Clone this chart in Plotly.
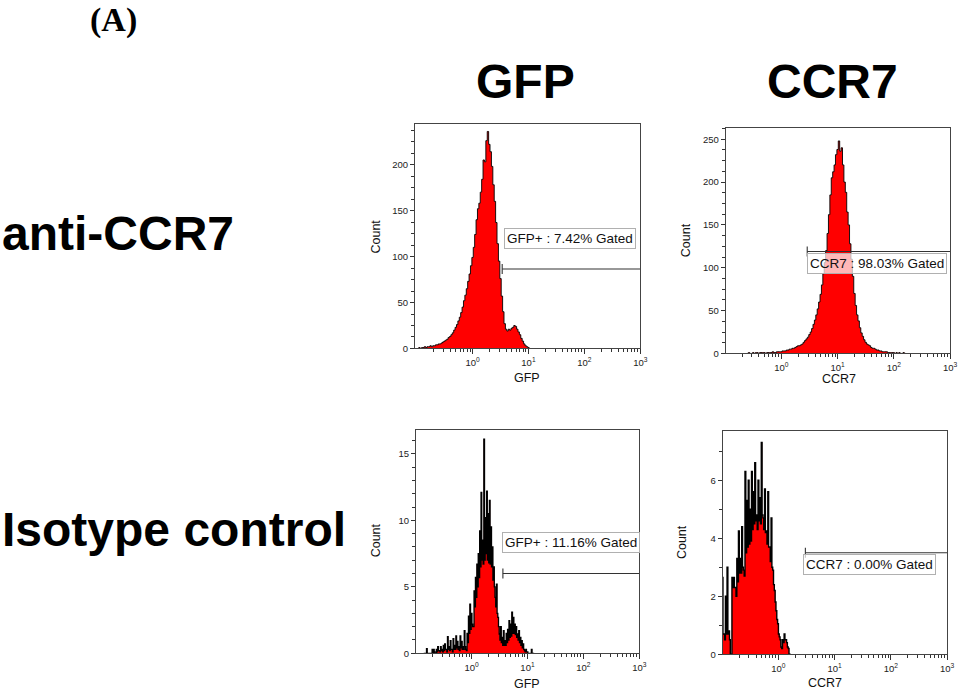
import plotly.graph_objects as go

FONT = "Liberation Sans, Arial, Helvetica, sans-serif"

# ---------------- data (histogram counts per log10 channel bin) ----------------
# top-left: anti-CCR7 / GFP
p1_start, p1_width = -0.9875, 0.025
p1_counts = [0, 1, 0, 1, 1, 2, 1, 2, 2, 3, 2, 3, 3, 4, 4, 5, 5, 6, 7, 8, 9, 10, 12, 13, 15, 17,
             20, 23, 26, 30, 34, 39, 45, 52, 58, 65, 73, 81, 90, 99, 110, 124, 140, 152, 158,
             170, 184, 205, 203, 226, 236, 222, 214, 198, 178, 160, 137, 114, 95, 76, 57, 40,
             27, 21, 19, 21, 20, 22, 23, 25, 24, 21, 18, 15, 11, 8, 5, 3, 2, 1, 0]

# top-right: anti-CCR7 / CCR7
p2_start, p2_width = -0.6125, 0.025
p2_counts = [0, 1, 0, 0, 1, 0, 1, 1, 0, 1, 1, 1, 1, 0, 1, 1, 1, 1, 2, 1, 1, 2, 2, 2,
             2, 3, 3, 3, 4, 4, 5, 5, 6, 6, 7, 8, 9, 9, 10, 11, 13, 15, 17, 19,
             22, 25, 29, 34, 39, 45, 52, 60, 69, 80, 93, 106, 120, 140, 162, 185, 205, 212, 220, 232,
             238, 248, 236, 240, 220, 200, 188, 165, 150, 128, 110, 90, 70, 56, 45, 38, 30, 24, 20, 16,
             13, 11, 10, 9, 7, 6, 6, 5, 4, 4, 3, 3, 2, 2, 2, 2, 1, 1, 1, 1,
             1, 0, 1, 0, 1, 0, 0, 1, 0]

# bottom-left: Isotype control / GFP (fine channels, noisy low counts)
p3_start, p3_width = -0.85625, 0.0125
p3_counts = [0, 0, 0, 0, 0.35, 0, 0, 0, 0, 0, 0, 0, 0.3, 0, 0.3, 0.1, 0, 0, 0.3, 0.1,
             0.5, 0.2, 0.2, 0.1, 0.5, 0.2, 0.3, 0.1, 0.6, 0.2, 0.7, 0.3, 0.3, 0.1, 1.25, 0.3,
             0.5, 0.2, 0.95, 0.3, 0.3, 0.1, 1.1, 0.3, 0.6, 0.3, 1.3, 0.4, 0.9, 0.3, 0.5, 0.2,
             1.3, 0.4, 0.9, 0.3, 0.5, 0.3, 1.7, 0.5, 0.3, 0.2, 1.5, 0.8, 2.8, 1.5, 3.7, 1.8,
             3.0, 2.2, 2.0, 2.0, 4.7, 3.5, 5.7, 4.2, 6.7, 5.0, 7.5, 5.7, 9.2, 6.5, 12.1, 7.0,
             8.5, 6.7, 16.1, 7.0, 10.2, 7.5, 12.2, 7.0, 10.5, 6.8, 11.5, 6.7, 9.5, 6.5, 8.0, 5.5,
             6.5, 5.0, 4.2, 3.5, 5.2, 3.0, 2.7, 2.0, 1.45, 1.0, 2.0, 0.8, 1.2, 0.6, 1.7, 0.6,
             0.95, 0.6, 1.5, 0.8, 1.8, 1.0, 2.45, 1.2, 2.2, 1.3, 3.1, 1.5, 2.7, 1.5, 2.2, 1.4,
             2.0, 1.2, 1.45, 1.0, 1.7, 0.8, 1.2, 0.6, 0.95, 0.4, 0.7, 0.3, 0.2, 0.1, 0.3, 0.1,
             0.1, 0, 0, 0, 0, 0, 0.3, 0, 0, 0]

# bottom-right: Isotype control / CCR7 (fine channels, noisy low counts)
p4_start, p4_width = -1.0, 0.0145
p4_counts = [2.65, 0.7, 0.7, 0.5, 2.0, 0.7, 3.0, 0.7, 0.8, 0.5, 0, 0,
             2.65, 2.3, 2.65, 2.3, 2.3, 2.0, 3.3, 2.5, 4.25, 2.8, 3.3, 2.8,
             4.4, 3.0, 2.9, 2.7, 6.3, 3.5, 5.3, 3.7, 6.0, 3.8, 5.0, 3.9,
             6.3, 4.3, 5.6, 4.5, 6.6, 4.6, 4.8, 4.3, 6.0, 4.6, 5.4, 4.5,
             7.3, 4.8, 4.7, 4.3, 5.7, 4.2, 4.25, 3.8, 5.6, 3.7, 3.7, 3.2,
             4.7, 3.0, 2.9, 2.4, 2.2, 1.8, 1.5, 1.2, 1.05, 0.7, 0.6, 0.5,
             0.25, 0.2, 0.5, 0.4, 0.7, 0.5, 0.5, 0.4, 0.25, 0.2, 0, 0]

# gates
gate_start_log = [0.53, 0.46, 0.56, 0.48]
gate_level = [86.5, 119, 6.0, 3.5]
gate_text = ["GFP+ : 7.42% Gated", "CCR7 : 98.03% Gated",
             "GFP+ : 11.16% Gated", "CCR7 : 0.00% Gated"]
label_x_log = [0.565, 0.45, 0.545, 0.44]
label_y = [119.5, 104.5, 8.3, 3.09]

col_titles = ["GFP", "CCR7"]
row_titles = ["anti-CCR7", "Isotype control"]
x_titles = ["GFP", "CCR7", "GFP", "CCR7"]
y_ticks = [[0, 50, 100, 150, 200], [0, 50, 100, 150, 200, 250], [0, 5, 10, 15], [0, 2, 4, 6]]
x_tickvals = [1, 10, 100, 1000]
x_ticktext = ["10<sup>0</sup>", "10<sup>1</sup>", "10<sup>2</sup>", "10<sup>3</sup>"]

# ---------------- layout geometry ----------------
W, H = 964, 698
panels = [
    dict(px=(418, 645), py=(125, 351), xr=(-1.03, 3), yr=(0, 244), minor=12.5, lw=0.9),
    dict(px=(731, 957), py=(129, 356), xr=(-0.99, 3), yr=(0, 263), minor=12.5, lw=0.9),
    dict(px=(419, 644), py=(433, 658), xr=(-0.995, 3), yr=(0, 16.8), minor=1, lw=1.3),
    dict(px=(728, 954), py=(434, 659), xr=(-0.99, 3), yr=(0, 7.7), minor=1, lw=1.4),
]
series = [(p1_start, p1_width, p1_counts), (p2_start, p2_width, p2_counts),
          (p3_start, p3_width, p3_counts), (p4_start, p4_width, p4_counts)]

minor_x = [m * 10 ** k for k in range(-1, 3) for m in range(2, 10)]

fig = go.Figure()
layout = dict(width=W, height=H, margin=dict(l=0, r=0, t=0, b=0), autosize=False,
              paper_bgcolor="white", plot_bgcolor="white", showlegend=False)
annotations = []

for i, (pan, (start, width, counts)) in enumerate(zip(panels, series)):
    n = i + 1
    xa = "x" if n == 1 else f"x{n}"
    ya = "y" if n == 1 else f"y{n}"
    xs = [10 ** (start + k * width) for k in range(len(counts) + 1)]
    ys = list(counts) + [0]
    fig.add_trace(go.Scatter(x=xs, y=ys, mode="lines",
                             line=dict(shape="hv", color="black", width=pan["lw"]),
                             fill="tozeroy", fillcolor="#ff0000", xaxis=xa, yaxis=ya,
                             hoverinfo="skip"))
    # gate
    g0 = 10 ** gate_start_log[i]
    lv = gate_level[i]
    half = 5 * (pan["yr"][1] - pan["yr"][0]) / (pan["py"][1] - pan["py"][0])
    fig.add_trace(go.Scatter(x=[g0, g0, None, g0, 1000], y=[lv - half, lv + half, None, lv, lv],
                             mode="lines", line=dict(color="#333333", width=1.1),
                             xaxis=xa, yaxis=ya, hoverinfo="skip"))
    annotations.append(dict(x=label_x_log[i], y=label_y[i], xref=xa, yref=ya, text=gate_text[i],
                            showarrow=False, xanchor="left", yanchor="middle",
                            font=dict(family=FONT, size=13.5, color="#111"),
                            bgcolor="rgba(255,255,255,0.72)", bordercolor="#b0b0b0",
                            borderwidth=1, borderpad=2))
    dom_x = [pan["px"][0] / W, pan["px"][1] / W]
    dom_y = [1 - pan["py"][1] / H, 1 - pan["py"][0] / H]
    axis_common = dict(showgrid=False, zeroline=False, showline=True, linecolor="#444444",
                       linewidth=1, mirror=True, ticks="outside", tickcolor="#333333",
                       tickfont=dict(family=FONT, size=9.5, color="#222"))
    layout["xaxis" if n == 1 else f"xaxis{n}"] = dict(
        axis_common, type="log", range=list(pan["xr"]), domain=dom_x, anchor=ya,
        tickvals=x_tickvals, ticktext=x_ticktext, ticklen=5,
        minor=dict(tickvals=minor_x, ticks="outside", ticklen=3, tickcolor="#333333"))
    layout["yaxis" if n == 1 else f"yaxis{n}"] = dict(
        axis_common, range=list(pan["yr"]), domain=dom_y, anchor=xa,
        tickvals=y_ticks[i], ticklen=4,
        minor=dict(dtick=pan["minor"], ticks="outside", ticklen=2.5, tickcolor="#333333"))

# axis titles
y_title_pos = [(379, 238), (691, 242), (379, 544), (687, 546)]
x_title_pos = [(531, 381), (845, 382), (531, 689), (831, 688)]
for i in range(4):
    annotations.append(dict(x=y_title_pos[i][0] / W, y=1 - y_title_pos[i][1] / H, xref="paper", yref="paper",
                            text="Count", textangle=-90, showarrow=False,
                            xanchor="center", yanchor="middle",
                            font=dict(family=FONT, size=12.5, color="#111")))
    annotations.append(dict(x=x_title_pos[i][0] / W, y=1 - x_title_pos[i][1] / H, xref="paper", yref="paper",
                            text=x_titles[i], showarrow=False, xanchor="center", yanchor="middle",
                            font=dict(family=FONT, size=12.5, color="#111")))

# column / row headings
for txt, cx in zip(col_titles, [529, 839]):
    annotations.append(dict(x=cx / W, y=1 - 82 / H, xref="paper", yref="paper", text=f"<b>{txt}</b>",
                            showarrow=False, xanchor="center", yanchor="middle",
                            font=dict(family=FONT, size=48, color="black")))
for txt, cy in zip(row_titles, [235, 533]):
    annotations.append(dict(x=0, y=1 - cy / H, xref="paper", yref="paper", text=f"<b>{txt}</b>",
                            showarrow=False, xanchor="left", yanchor="middle",
                            font=dict(family=FONT, size=48, color="black")))
annotations.append(dict(x=114 / W, y=1 - 20 / H, xref="paper", yref="paper", text="<b>(A)</b>",
                        showarrow=False, xanchor="center", yanchor="middle",
                        font=dict(family="Liberation Serif, Times New Roman, serif", size=34, color="black")))

layout["annotations"] = annotations
fig.update_layout(**layout)
fig.write_html("out.html", config={"displayModeBar": False},
               post_script="document.body.style.margin='0';document.body.style.overflow='hidden';")
